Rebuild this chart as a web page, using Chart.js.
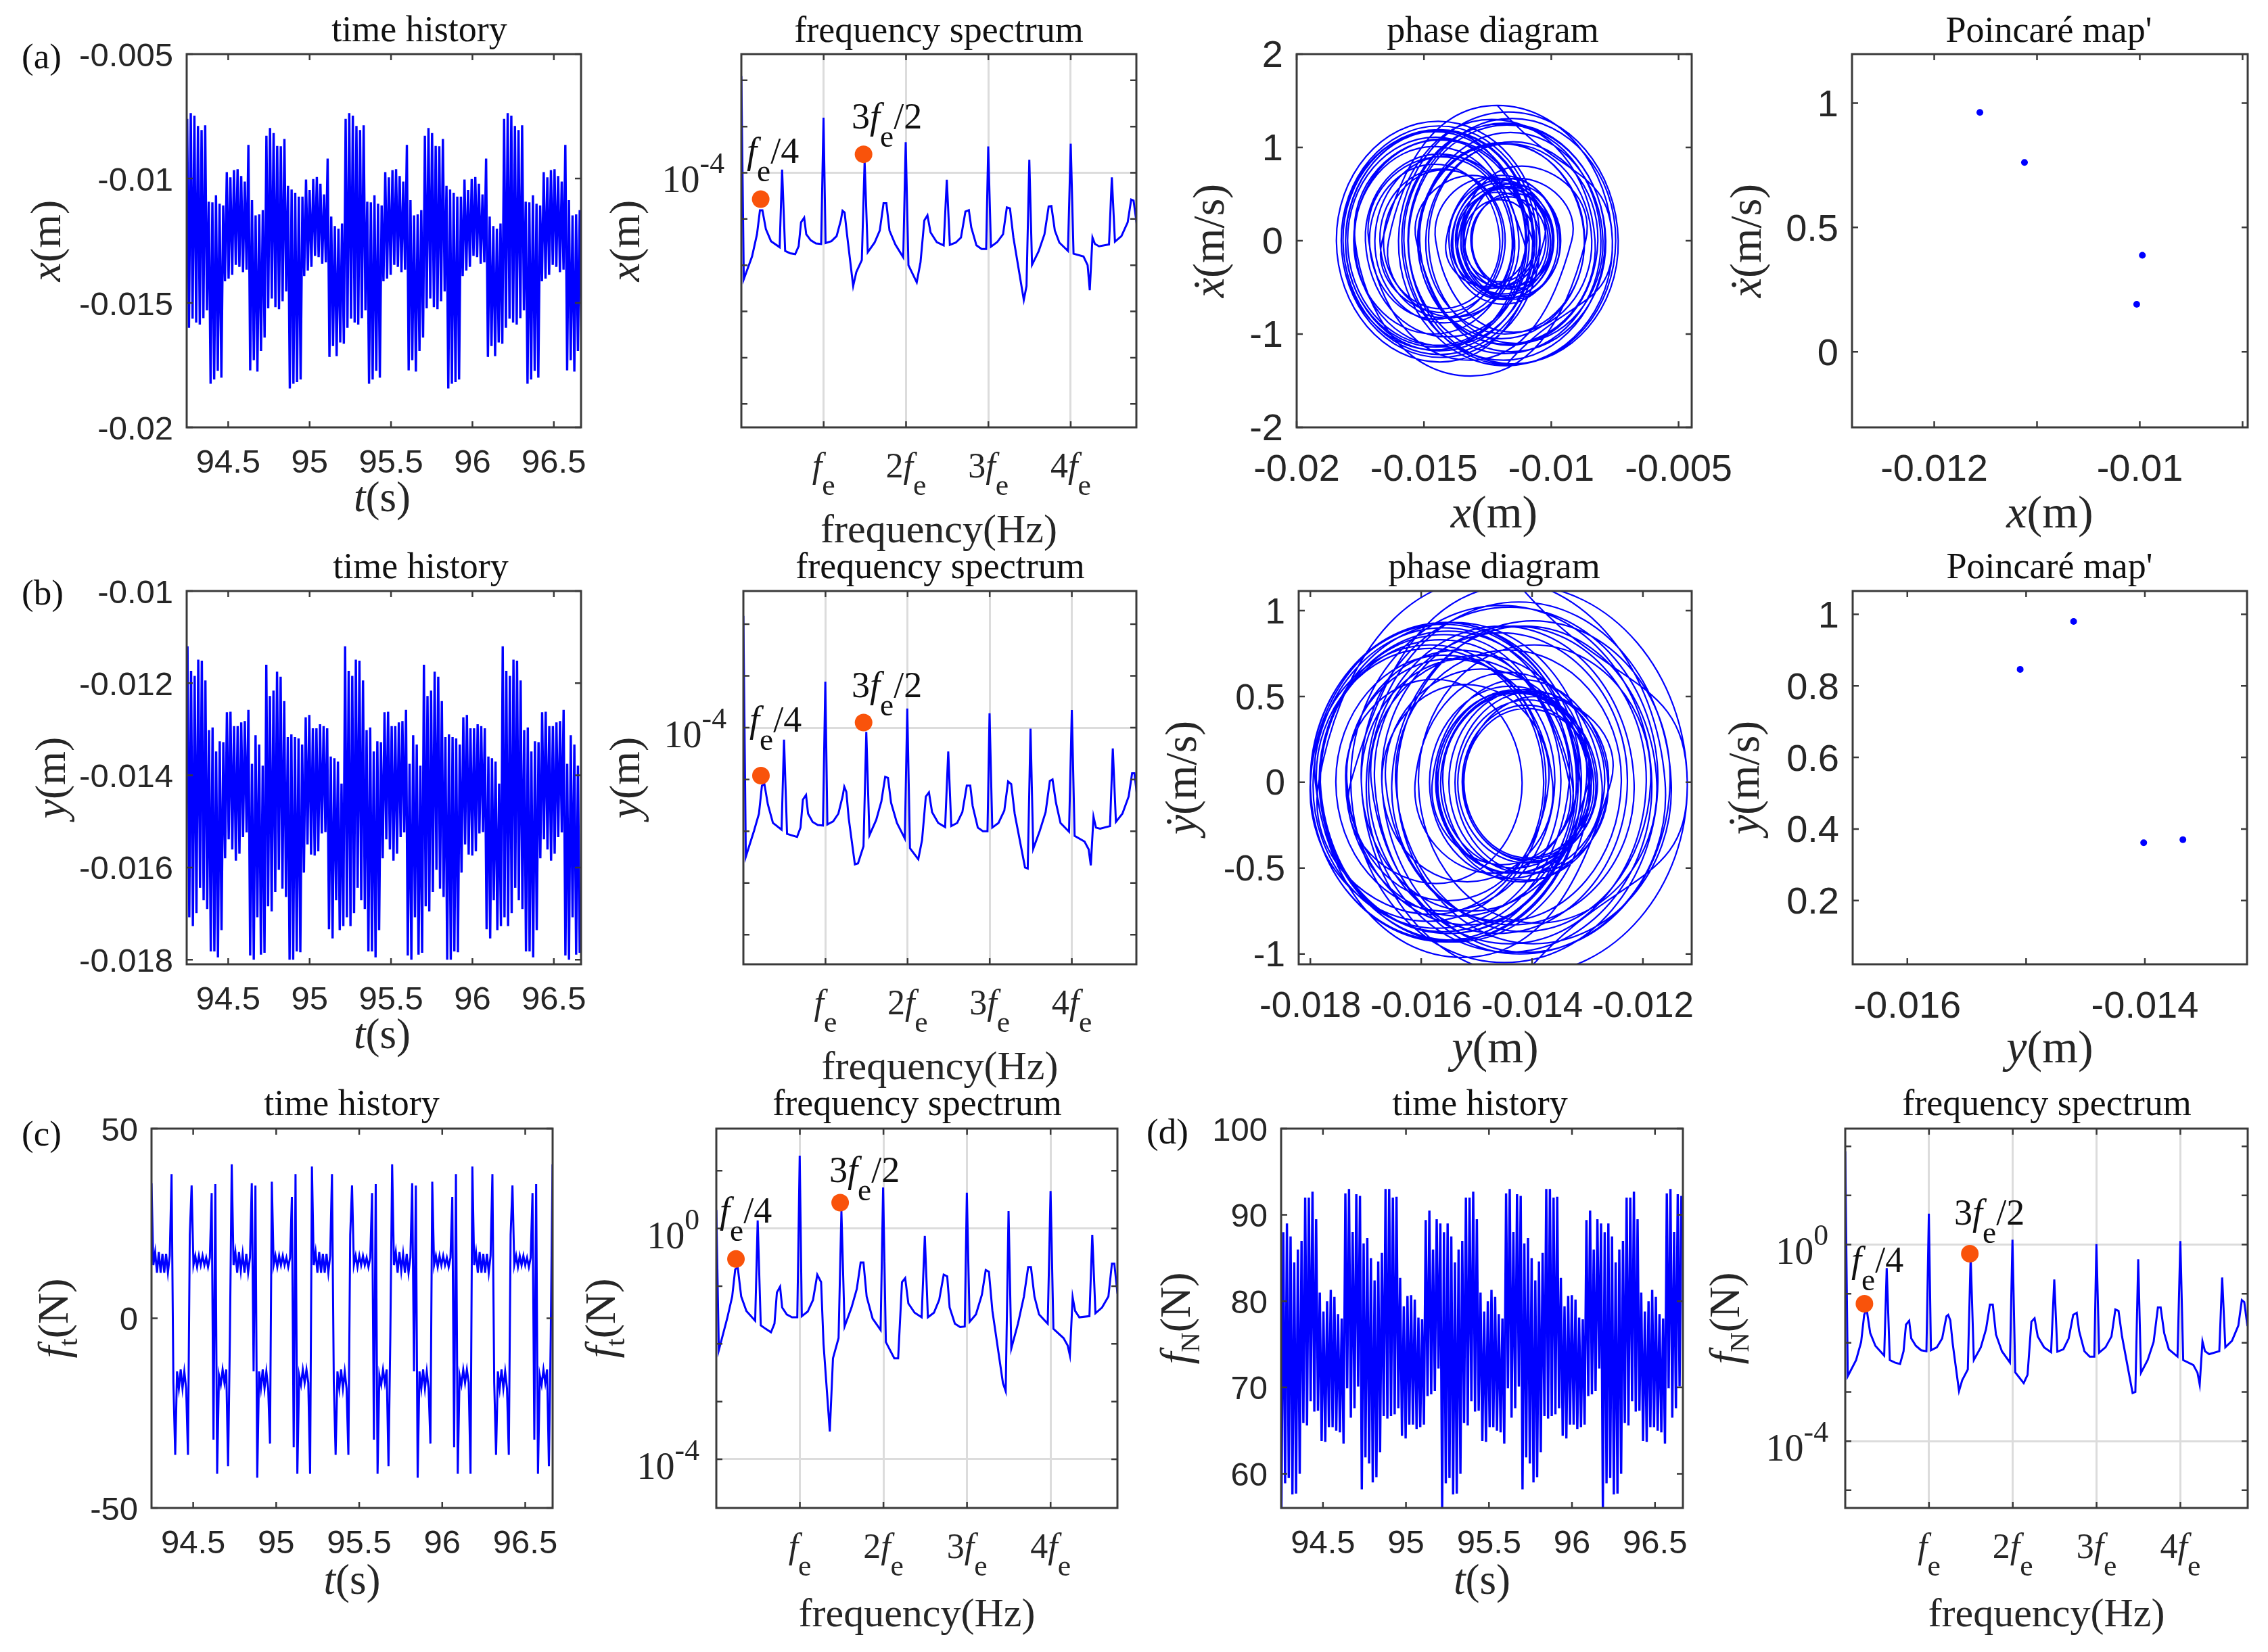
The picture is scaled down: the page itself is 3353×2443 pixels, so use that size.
<!DOCTYPE html>
<html>
<head>
<meta charset="utf-8">
<script src="https://cdn.jsdelivr.net/npm/chart.js@4/dist/chart.umd.min.js"></script>
<style>
html, body { margin: 0; background: #fff; width: 3353px; height: 2443px; overflow: hidden; position: relative; }
canvas { position: absolute; }
</style>
</head>
<body>
<script>
// time history samples, one value per half swing (mm for x and y, N for the forces)
const xHistory = [
-7.6,-16,-7.37,-15.63,-7.47,-15.79,-7.89,-15.87,-8.05,-15.61,-7.86,-15.3,-10.93,-18.25,-10.96,-18.08,-10.67,-17.73,-11.01,-18,-11.08,-14.13,-9.74,-14.02,-9.95,-13.87,-9.66,-13.47,-9.63,-13.55,-9.9,-13.76,-10.12,-13.66,-8.65,-17.71,-10.87,-17.3,-11.48,-17.76,-11.44,-16.93,-11.27,-16.39,-8.28,-15.22,-7.97,-14.82,-8.17,-15.17,-8.69,-15.25,-8.7,-14.93,-8.41,-14.54,-10.29,-18.44,-10.44,-18.25,-10.57,-18.18,-10.73,-18.08,-10.73,-13.92,-10.04,-13.7,-10.46,-13.55,-10.02,-13.11,-9.94,-13.16,-10.21,-13.42,-10.64,-13.37,-9.2,-17.17,-11.53,-16.73,-11.91,-17.14,-12.02,-16.59,-11.81,-16.64,
-7.6,-16,-7.37,-15.63,-7.47,-15.79,-7.89,-15.87,-8.05,-15.61,-7.86,-15.3,-10.93,-18.25,-10.96,-18.08,-10.67,-17.73,-11.01,-18,-11.08,-14.13,-9.74,-14.02,-9.95,-13.87,-9.66,-13.47,-9.63,-13.55,-9.9,-13.76,-10.12,-13.66,-8.65,-17.71,-10.87,-17.3,-11.48,-17.76,-11.44,-16.93,-11.27,-16.39,-8.28,-15.22,-7.97,-14.82,-8.17,-15.17,-8.69,-15.25,-8.7,-14.93,-8.41,-14.54,-10.29,-18.44,-10.44,-18.25,-10.57,-18.18,-10.73,-18.08,-10.73,-13.92,-10.04,-13.7,-10.46,-13.55,-10.02,-13.11,-9.94,-13.16,-10.21,-13.42,-10.64,-13.37,-9.2,-17.17,-11.53,-16.73,-11.91,-17.14,-12.02,-16.59,-11.81,-16.64,
-7.6,-16,-7.37,-15.63,-7.47,-15.79,-7.89,-15.87,-8.05,-15.61,-7.86,-15.3,-10.93,-18.25,-10.96,-18.08,-10.67,-17.73,-11.01,-18,-11.08,-14.13,-9.74,-14.02,-9.95,-13.87,-9.66,-13.47,-9.63,-13.55,-9.9,-13.76,-10.12,-13.66,-8.65,-17.71,-10.87,-17.3,-11.48,-17.76,-11.44,-16.93,-11.27,-16.39
];
const yHistory = [
-11.2,-17.08,-11.73,-17.27,-11.84,-16.99,-11.49,-16.44,-11.51,-16.71,-11.94,-16.9,-13.02,-17.82,-12.96,-17.82,-13.48,-17.95,-13.26,-17.36,-13.28,-15.8,-12.63,-15.39,-12.62,-15.61,-12.93,-15.85,-12.93,-15.7,-12.85,-15.34,-12.82,-15.24,-12.58,-17.91,-13.75,-18,-13.13,-17.08,-13.33,-17.89,-13.79,-17.85,-11.6,-16.84,-12.28,-16.95,-12.16,-16.53,-11.75,-16.05,-11.86,-16.46,-12.39,-16.64,-13.17,-18,-13.11,-18,-13.17,-17.82,-13.2,-17.84,-13.33,-16.11,-12.74,-15.5,-12.69,-15.72,-12.98,-15.74,-12.98,-15.65,-12.89,-15.26,-12.93,-15.23,-12.98,-17.34,-13.59,-17.54,-13.63,-16.71,-13.7,-17.36,-14.18,-17.27,
-11.2,-17.08,-11.73,-17.27,-11.84,-16.99,-11.49,-16.44,-11.51,-16.71,-11.94,-16.9,-13.02,-17.82,-12.96,-17.82,-13.48,-17.95,-13.26,-17.36,-13.28,-15.8,-12.63,-15.39,-12.62,-15.61,-12.93,-15.85,-12.93,-15.7,-12.85,-15.34,-12.82,-15.24,-12.58,-17.91,-13.75,-18,-13.13,-17.08,-13.33,-17.89,-13.79,-17.85,-11.6,-16.84,-12.28,-16.95,-12.16,-16.53,-11.75,-16.05,-11.86,-16.46,-12.39,-16.64,-13.17,-18,-13.11,-18,-13.17,-17.82,-13.2,-17.84,-13.33,-16.11,-12.74,-15.5,-12.69,-15.72,-12.98,-15.74,-12.98,-15.65,-12.89,-15.26,-12.93,-15.23,-12.98,-17.34,-13.59,-17.54,-13.63,-16.71,-13.7,-17.36,-14.18,-17.27,
-11.2,-17.08,-11.73,-17.27,-11.84,-16.99,-11.49,-16.44,-11.51,-16.71,-11.94,-16.9,-13.02,-17.82,-12.96,-17.82,-13.48,-17.95,-13.26,-17.36,-13.28,-15.8,-12.63,-15.39,-12.62,-15.61,-12.93,-15.85,-12.93,-15.7,-12.85,-15.34,-12.82,-15.24,-12.58,-17.91,-13.75,-18,-13.13,-17.08,-13.33,-17.89,-13.79,-17.85
];
const ftHistory = [
35.6,14,17.5,12,17.5,12,17,12,17,12,16.5,38,-17,-36,-14,-18.5,-13.5,-18.5,-14,-18.5,-36,22,35,14,16.5,13.5,16.5,14,16.5,14,16,13.5,16,33,-32,35.4,-41,-15,-17.5,-13.5,-17,-13.5,-39,-5,40.6,14,17.5,12,17.5,12.5,17,12,17,12,16,35.6,-14,35,-42,-14,-18.5,-13.5,-18.5,-14,-18.5,-33,36,14,16.5,13.5,16.5,14,16.5,14,16,13.5,16,32,-34,38,-41,-15,-17.5,-13.5,-17,-13.5,-17,-41,
40,14,17.5,12,17.5,12,17,12,17,12,16.5,38,-17,-36,-14,-18.5,-13.5,-18.5,-14,-18.5,-36,22,35,14,16.5,13.5,16.5,14,16.5,14,16,13.5,16,33,-32,35.4,-41,-15,-17.5,-13.5,-17,-13.5,-39,-5,40.6,14,17.5,12,17.5,12.5,17,12,17,12,16,35.6,-14,35,-42,-14,-18.5,-13.5,-18.5,-14,-18.5,-33,36,14,16.5,13.5,16.5,14,16.5,14,16,13.5,16,32,-34,38,-41,-15,-17.5,-13.5,-17,-13.5,-17,-41,
40,14,17.5,12,17.5,12,17,12,17,12,16.5,38,-17,-36,-14,-18.5,-13.5,-18.5,-14,-18.5,-36,22,35,14,16.5,13.5,16.5,14,16.5,14,16,13.5,16,33,-32,35.4,-41,-15,-17.5,-13.5,-17,-13.5,-39,-5,40.6
];
const fnHistory = [
56,88,58.9,89,59.5,87.5,57.6,84.5,57.7,86,60,87,65.9,92,65.6,92,68.4,92.7,67.2,89.5,67.3,81,63.8,78.8,63.7,80,65.4,81.3,65.4,80.5,65,78.5,64.8,78,63.5,92.5,69.9,93,66.5,88,67.6,92.4,70.1,92.2,58.2,86.7,61.9,87.3,61.2,85,59,82.4,59.6,84.6,62.5,85.6,66.7,93,66.4,93,66.7,92,66.9,92.1,67.6,82.7,64.4,79.4,64.1,80.6,65.7,80.7,65.7,80.2,65.2,78.1,65.4,77.9,65.7,89.4,69,90.5,69.2,86,69.6,89.5,72.2,89,
56,88,58.9,89,59.5,87.5,57.6,84.5,57.7,86,60,87,65.9,92,65.6,92,68.4,92.7,67.2,89.5,67.3,81,63.8,78.8,63.7,80,65.4,81.3,65.4,80.5,65,78.5,64.8,78,63.5,92.5,69.9,93,66.5,88,67.6,92.4,70.1,92.2,58.2,86.7,61.9,87.3,61.2,85,59,82.4,59.6,84.6,62.5,85.6,66.7,93,66.4,93,66.7,92,66.9,92.1,67.6,82.7,64.4,79.4,64.1,80.6,65.7,80.7,65.7,80.2,65.2,78.1,65.4,77.9,65.7,89.4,69,90.5,69.2,86,69.6,89.5,72.2,89,
56,88,58.9,89,59.5,87.5,57.6,84.5,57.7,86,60,87,65.9,92,65.6,92,68.4,92.7,67.2,89.5,67.3,81,63.8,78.8,63.7,80,65.4,81.3,65.4,80.5,65,78.5,64.8,78,63.5,92.5,69.9,93,66.5,88,67.6,92.4,70.1,92.2
];

// spectra: frequency in multiples of fe, amplitude as log10
const specFreq = [
0,.03,.13,.19,.226,.256,.298,.36,.465,.495,
.532,.591,.654,.696,.725,.763,.788,.843,.906,.969,
.998,1.023,1.094,1.157,1.208,1.229,1.254,1.283,1.358,1.396,
1.463,1.497,1.535,1.618,1.681,1.727,1.761,1.799,1.87,1.966,
1.996,2.029,2.13,2.176,2.222,2.26,2.298,2.373,2.457,2.495,
2.532,2.604,2.667,2.721,2.763,2.792,2.855,2.918,2.973,2.998,
3.031,3.107,3.178,3.224,3.262,3.304,3.43,3.463,3.497,3.53,
3.61,3.681,3.732,3.765,3.807,3.862,3.966,4,4.034,4.155,
4.205,4.231,4.264,4.294,4.344,4.465,4.499,4.537,4.616,4.692,
4.734,4.763,4.801];
const xSpecLog = [
-1.91,-6.3,-5.81,-5.33,-4.81,-4.81,-5.22,-5.48,-5.61,-3.93,
-5.69,-5.74,-5.76,-5.59,-5.07,-4.97,-5.33,-5.46,-5.53,-5.54,
-2.81,-5.52,-5.48,-5.37,-5.03,-4.82,-4.86,-5.33,-6.45,-6.15,
-5.89,-3.75,-5.72,-5.51,-5.25,-4.66,-4.66,-5.25,-5.55,-5.83,
-3.34,-6,-6.37,-5.93,-5.03,-4.92,-5.29,-5.5,-5.57,-4.15,
-5.56,-5.51,-5.4,-4.84,-4.81,-5.18,-5.57,-5.65,-5.65,-3.43,
-5.6,-5.5,-5.33,-4.75,-4.77,-5.4,-6.75,-6.45,-3.72,-5.99,
-5.7,-5.33,-4.73,-4.72,-5.25,-5.51,-5.69,-3.37,-5.75,-5.81,
-6,-6.54,-5.4,-5.54,-5.59,-5.55,-4.1,-5.49,-5.37,-5.07,
-4.58,-4.6,-5.1];
const ySpecLog = [
-1.84,-6.49,-5.99,-5.66,-5.12,-5.09,-5.48,-5.84,-5.97,-4.23,
-6.05,-6.08,-6.11,-5.93,-5.39,-5.3,-5.66,-5.82,-5.88,-5.89,
-3.11,-5.87,-5.81,-5.66,-5.33,-5.14,-5.24,-5.75,-6.64,-6.62,
-6.29,-4.08,-6.08,-5.78,-5.42,-4.95,-4.97,-5.45,-5.84,-6.14,
-3.63,-6.33,-6.54,-6.17,-5.33,-5.25,-5.63,-5.84,-5.92,-4.46,
-5.9,-5.84,-5.63,-5.12,-5.12,-5.51,-5.93,-6,-6,-3.72,
-5.93,-5.84,-5.6,-5.04,-5.09,-5.66,-6.7,-6.72,-4.02,-6.34,
-5.99,-5.63,-5.03,-5,-5.45,-5.84,-6.01,-3.66,-6.09,-6.2,
-6.35,-6.66,-5.72,-5.93,-5.95,-5.9,-4.4,-5.82,-5.66,-5.33,
-4.88,-4.88,-5.41];
const ftSpecLog = [
.32,-2.11,-1.56,-1.18,-.71,-.67,-1.18,-1.43,-1.6,.14,
-1.68,-1.74,-1.8,-1.65,-1.11,-1.01,-1.37,-1.49,-1.54,-1.54,
1.26,-1.52,-1.44,-1.24,-.8,-.86,-.93,-2,-3.52,-2.25,
-1.9,.3,-1.7,-1.37,-1.05,-.59,-.59,-1.18,-1.56,-1.76,
.71,-1.97,-2.25,-2.25,-.93,-.86,-1.3,-1.46,-1.54,-.13,
-1.54,-1.46,-1.24,-.8,-.83,-1.37,-1.65,-1.71,-1.7,.62,
-1.62,-1.49,-1.15,-.72,-.75,-1.43,-2.68,-2.82,.3,-2.08,
-1.65,-1.18,-.67,-.67,-1.18,-1.49,-1.65,.65,-1.74,-1.9,
-2.03,-2.2,-1.19,-1.43,-1.54,-1.52,-.11,-1.47,-1.37,-1.18,
-.61,-.61,-1.13];
const fnSpecLog = [
1.9,-2.68,-2.35,-1.98,-1.43,-1.32,-1.8,-2.06,-2.26,-.48,
-2.35,-2.4,-2.43,-2.17,-1.63,-1.55,-1.91,-2.06,-2.15,-2.17,
.63,-2.15,-2.09,-1.91,-1.46,-1.43,-1.54,-2.02,-2.98,-2.76,
-2.54,-.24,-2.35,-2.09,-1.72,-1.22,-1.22,-1.83,-2.17,-2.4,
.1,-2.6,-2.82,-2.65,-1.57,-1.5,-1.87,-2.09,-2.19,-.71,
-2.18,-2.13,-1.91,-1.43,-1.39,-1.76,-2.17,-2.28,-2.28,.01,
-2.2,-2.09,-1.87,-1.32,-1.35,-1.87,-3.02,-3,-.3,-2.61,
-2.35,-1.98,-1.28,-1.28,-1.8,-2.13,-2.28,.07,-2.35,-2.45,
-2.61,-2.85,-1.97,-2.17,-2.23,-2.17,-.67,-2.09,-1.96,-1.65,
-1.13,-1.17,-1.66];

// orange markers at fe/4 and 3fe/2: frequency, log10 amplitude
const xMarkF = [.235, 1.484], xMarkLog = [-4.57, -3.6];
const yMarkF = [.214, 1.464], yMarkLog = [-4.925, -3.9];
const ftMarkF = [.235, 1.482], ftMarkLog = [-.53, .447];
const fnMarkF = [.229, 1.487], fnMarkLog = [-1.205, -.185];

// phase loops: turning point, mid swing, turning point ... (mm, m/s)
const xPhasePos = [
-12.12,-7.6,-11.8,-16,-11.69,-7.37,-11.5,-15.63,-11.55,-7.47,-11.63,-15.79,-11.84,-7.89,-11.88,-15.87,-11.96,-8.05,-11.83,-15.61,-11.74,-7.86,-11.58,-15.3,-13.12,-10.93,-14.59,-18.25,-14.6,-10.96,-14.52,-18.08,-14.38,-10.67,-14.2,-17.73,-14.37,-11.01,-14.5,-18,-14.54,-11.08,-12.6,-14.13,-11.94,-9.74,-11.88,-14.02,-11.98,-9.95,-11.91,-13.87,-11.76,-9.66,-11.56,-13.47,-11.55,-9.63,-11.59,-13.55,-11.72,-9.9,-11.83,-13.76,-11.94,-10.12,-11.89,-13.66,-11.16,-8.65,-13.18,-17.71,-14.29,-10.87,-14.09,-17.3,-14.39,-11.48,-14.62,-17.76,-14.6,-11.44,-14.19,-16.93,-14.1,-11.27,-13.83,-16.39,-12.34,-8.28,-11.75,-15.22,-11.6,-7.97,-11.4,-14.82,-11.5,-8.17,-11.67,-15.17,-11.93,-8.69,-11.97,-15.25,-11.98,-8.7,-11.82,-14.93,-11.67,-8.41,-11.48,-14.54,-12.42,-10.29,-14.37,-18.44,-14.44,-10.44,-14.35,-18.25,-14.41,-10.57,-14.38,-18.18,-14.46,-10.73,-14.4,-18.08,-14.4,-10.73,-12.33,-13.92,-11.98,-10.04,-11.87,-13.7,-12.08,-10.46,-12,-13.55,-11.79,-10.02,-11.57,-13.11,-11.53,-9.94,-11.55,-13.16,-11.69,-10.21,-11.82,-13.42,-12.03,-10.64,-12,-13.37,-11.29,-9.2,-13.19,-17.17,-14.35,-11.53,-14.13,-16.73,-14.32,-11.91,-14.53,-17.14,-14.58,-12.02,-14.31,-16.59,-14.2,-11.81,-14.23,-16.64,-12.12,-7.6,-11.8];
const xPhaseVel = [
1.45,0,-1.34,0,1.38,0,-1.32,0,1.31,0,-1.33,0,1.26,0,-1.28,0,1.25,0,-1.21,0,1.24,0,-1.19,0,.7,0,-1.17,0,1.17,0,-1.14,0,1.19,0,-1.13,0,1.08,0,-1.12,0,1.11,0,-.49,0,.7,0,-.68,0,.65,0,-.63,0,.67,0,-.61,0,.61,0,-.63,0,.58,0,-.62,0,.58,0,-.57,0,.8,0,-1.45,0,1.09,0,-1.03,0,.93,0,-1,0,1.01,0,-.88,0,.91,0,-.82,0,1.3,0,-1.11,0,1.16,0,-1.1,0,1.06,0,-1.12,0,1.04,0,-1.05,0,1.05,0,-1,0,1.04,0,-.98,0,.68,0,-1.3,0,1.28,0,-1.25,0,1.23,0,-1.22,0,1.19,0,-1.18,0,1.18,0,-.51,0,.62,0,-.59,0,.52,0,-.49,0,.56,0,-.49,0,.51,0,-.52,0,.47,0,-.51,0,.44,0,-.44,0,.67,0,-1.28,0,.9,0,-.83,0,.77,0,-.84,0,.82,0,-.73,0,.76,0,-.77,0,1.45,0,-1.34];
const yPhasePos = [
-14.24,-11.2,-14.14,-17.08,-14.41,-11.73,-14.5,-17.27,-14.56,-11.84,-14.42,-16.99,-14.24,-11.49,-13.97,-16.44,-13.98,-11.51,-14.11,-16.71,-14.33,-11.94,-14.42,-16.9,-14.96,-13.02,-15.42,-17.82,-15.39,-12.96,-15.39,-17.82,-15.65,-13.48,-15.72,-17.95,-15.6,-13.26,-15.31,-17.36,-15.32,-13.28,-14.54,-15.8,-14.22,-12.63,-14.01,-15.39,-14,-12.62,-14.12,-15.61,-14.27,-12.93,-14.39,-15.85,-14.39,-12.93,-14.32,-15.7,-14.28,-12.85,-14.1,-15.34,-14.08,-12.82,-14.03,-15.24,-13.91,-12.58,-15.25,-17.91,-15.83,-13.75,-15.88,-18,-15.57,-13.13,-15.11,-17.08,-15.21,-13.33,-15.61,-17.89,-15.84,-13.79,-15.82,-17.85,-14.73,-11.6,-14.22,-16.84,-14.56,-12.28,-14.62,-16.95,-14.56,-12.16,-14.35,-16.53,-14.14,-11.75,-13.9,-16.05,-13.96,-11.86,-14.16,-16.46,-14.43,-12.39,-14.52,-16.64,-14.91,-13.17,-15.59,-18,-15.56,-13.11,-15.56,-18,-15.59,-13.17,-15.5,-17.82,-15.51,-13.2,-15.52,-17.84,-15.59,-13.33,-14.72,-16.11,-14.43,-12.74,-14.12,-15.5,-14.1,-12.69,-14.21,-15.72,-14.35,-12.98,-14.36,-15.74,-14.36,-12.98,-14.32,-15.65,-14.27,-12.89,-14.08,-15.26,-14.1,-12.93,-14.08,-15.23,-14.1,-12.98,-15.16,-17.34,-15.47,-13.59,-15.57,-17.54,-15.59,-13.63,-15.17,-16.71,-15.21,-13.7,-15.53,-17.36,-15.77,-14.18,-15.73,-17.27,-14.24,-11.2,-14.14];
const yPhaseVel = [
1.15,0,-1.12,0,1.02,0,-1.05,0,1.03,0,-.99,0,1.05,0,-.94,0,.94,0,-.99,0,.91,0,-.94,0,.74,0,-.92,0,.93,0,-.93,0,.83,0,-.85,0,.9,0,-.78,0,.77,0,-.48,0,.6,0,-.53,0,.53,0,-.57,0,.52,0,-.56,0,.56,0,-.53,0,.54,0,-.47,0,.48,0,-.46,0,.5,0,-1.02,0,.8,0,-.81,0,.93,0,-.75,0,.72,0,-.87,0,.78,0,-.77,0,1.19,0,-1,0,.87,0,-.88,0,.91,0,-.83,0,.91,0,-.82,0,.8,0,-.87,0,.77,0,-.81,0,.66,0,-.92,0,.93,0,-.93,0,.92,0,-.88,0,.88,0,-.88,0,.86,0,-.53,0,.64,0,-.53,0,.54,0,-.58,0,.53,0,-.53,0,.53,0,-.5,0,.53,0,-.45,0,.45,0,-.44,0,.43,0,-.83,0,.72,0,-.75,0,.74,0,-.58,0,.57,0,-.69,0,.6,0,-.59,0,1.15,0,-1.12];

// Poincare sections
const xPoincarePos = [-.011556, -.011122, -.009975, -.01003];
const xPoincareVel = [.9626, .7614, .388, .191];
const yPoincarePos = [-.01505, -.0146, -.01401, -.01368];
const yPoincareVel = [.846, .98, .3616, .37];

// tick lists
const timeTicks = [94.5, 95, 95.5, 96, 96.5];
const feTicks = [1, 2, 3, 4];
const xTimeTicks = [-.02, -.015, -.01, -.005];
const yTimeTicks = [-.018, -.016, -.014, -.012, -.01];
const ftTicks = [-50, 0, 50];
const fnTicks = [60, 70, 80, 90, 100];
const xVelTicks = [-2, -1, 0, 1, 2];
const yVelTicks = [-1, -.5, 0, .5, 1];
const xMapXTicks = [-.012, -.011, -.01, -.009];
const xMapXLabels = [-.012, -.01];
const xMapYTicks = [0, .5, 1];
const yMapXTicks = [-.016, -.015, -.014];
const yMapXLabels = [-.016, -.014];
const yMapYTicks = [.2, .4, .6, .8, 1];

const BLUE = '#0000ff', ORANGE = '#f9530b', INK = '#262626';
const SERIF = '"Liberation Serif"';
const M_LEFT = 260, M_TOP = 85, M_BOTTOM = 200;

const it = t => ({ t, i: true });
const sub = t => ({ t, sub: true });      // large subscript, as in fe
const low = t => ({ t, low: true });      // small axis-label subscript
const sup = t => ({ t, sup: true });

// draw a row of mixed italic / subscript text on one baseline
function drawRuns(ctx, runs, x, y, size, align) {
    const sizeOf = r => r.sub ? size * 0.84 : r.low ? size * 0.64 : r.sup ? size * 0.78 : size;
    const fontOf = r => (r.i ? 'italic ' : '') + sizeOf(r) + 'px ' + SERIF;
    let total = 0;
    runs.forEach(r => { ctx.font = fontOf(r); total += ctx.measureText(r.t).width; });
    let px = align === 'center' ? x - total / 2 : align === 'right' ? x - total : x;
    ctx.textAlign = 'left';
    ctx.textBaseline = 'alphabetic';
    runs.forEach(r => {
        ctx.font = fontOf(r);
        const dy = r.sub ? size * 0.5 : r.low ? size * 0.22 : r.sup ? -size * 0.5 : 0;
        ctx.fillText(r.t, px, y + dy);
        px += ctx.measureText(r.t).width;
    });
}

function panelPlugin(p) {
    const [L, R, T, B] = p.box;
    return {
        id: 'panelDecor',
        afterDraw(chart) {
            const ctx = chart.ctx, sx = chart.scales.x, sy = chart.scales.y;
            const ox = L - M_LEFT, oy = T - M_TOP;
            ctx.save();
            // inward ticks on all four sides, then the box
            ctx.strokeStyle = '#3a3a3a';
            ctx.lineWidth = 2.5;
            ctx.beginPath();
            sx.ticks.forEach(t => {
                const px = sx.getPixelForValue(t.value);
                ctx.moveTo(px, M_TOP); ctx.lineTo(px, M_TOP + 9);
                ctx.moveTo(px, M_TOP + B - T); ctx.lineTo(px, M_TOP + B - T - 9);
            });
            sy.ticks.forEach(t => {
                const py = sy.getPixelForValue(t.value);
                ctx.moveTo(M_LEFT, py); ctx.lineTo(M_LEFT + 9, py);
                ctx.moveTo(M_LEFT + R - L, py); ctx.lineTo(M_LEFT + R - L - 9, py);
            });
            ctx.stroke();
            ctx.lineWidth = 3;
            ctx.strokeRect(M_LEFT, M_TOP, R - L, B - T);

            ctx.translate(-ox, -oy);
            ctx.fillStyle = '#111';
            drawRuns(ctx, [{ t: p.title }], p.titleX, p.titleY, 54, 'center');
            ctx.fillStyle = INK;
            drawRuns(ctx, p.xLabel, p.xLabelX || (L + R) / 2, p.xLabelY, p.xLabelSize || 63, 'center');
            ctx.save();
            ctx.translate(p.yLabelX, (T + B) / 2);
            ctx.rotate(-Math.PI / 2);
            drawRuns(ctx, p.yLabel, 0, 0, p.yLabelSize || 64, 'center');
            ctx.restore();
            if (p.tag) {
                ctx.fillStyle = '#111';
                drawRuns(ctx, [{ t: p.tag[0] }], p.tag[1], p.tag[2], 53, 'left');
            }
            if (p.spectrum) {
                ctx.fillStyle = INK;
                p.feTicks.forEach(n => {
                    const px = sx.getPixelForValue(n) + ox;
                    const runs = n === 1 ? [it('f'), sub('e')] : [{ t: String(n) }, it('f'), sub('e')];
                    drawRuns(ctx, runs, px, B + 74, 52, 'center');
                });
                p.logLabels.forEach(e => {
                    const py = sy.getPixelForValue(Math.pow(10, e)) + oy;
                    drawRuns(ctx, [{ t: '10' }, sup(String(e))], L - 25, py + 29, 56, 'right');
                });
                ctx.fillStyle = '#111';
                drawRuns(ctx, [it('f'), sub('e'), { t: '/4' }], p.note1[0], p.note1[1], 54, 'left');
                drawRuns(ctx, [{ t: '3' }, it('f'), sub('e'), { t: '/2' }], p.note2[0], p.note2[1], 54, 'left');
            }
            ctx.restore();
        }
    };
}

function scaleOptions(p, axis) {
    const s = p[axis];
    const isX = axis === 'x';
    const margin = isX ? M_BOTTOM : M_LEFT;
    return {
        type: s.log ? 'logarithmic' : 'linear',
        min: s.min,
        max: s.max,
        border: { display: false },
        grid: s.gridAt ? {
            drawTicks: false,
            lineWidth: 3,
            color: c => s.gridAt.includes(c.tick.value) ? '#dcdcdc' : 'rgba(0,0,0,0)'
        } : { display: false, drawTicks: false },
        afterBuildTicks: sc => { sc.ticks = s.ticks.map(v => ({ value: v })); },
        afterFit: sc => { if (isX) sc.height = margin; else sc.width = margin; },
        ticks: {
            display: !s.hideLabels,
            autoSkip: false,
            minRotation: 0,
            maxRotation: 0,
            padding: isX ? (s.pad || 24) : 20,
            labelOffset: isX ? 0 : 4,
            color: INK,
            font: { family: 'Liberation Sans', size: p.tickSize },
            callback: v => (!s.labels || s.labels.includes(v)) ? String(v) : ''
        }
    };
}

function addPanel(p) {
    const [L, R, T, B] = p.box;
    const rightPad = p.rightPad || 90;
    const canvas = document.createElement('canvas');
    const w = M_LEFT + (R - L) + rightPad, h = M_TOP + (B - T) + M_BOTTOM;
    canvas.width = w;
    canvas.height = h;
    canvas.style.left = (L - M_LEFT) + 'px';
    canvas.style.top = (T - M_TOP) + 'px';
    canvas.style.width = w + 'px';
    canvas.style.height = h + 'px';
    document.body.appendChild(canvas);
    new Chart(canvas.getContext('2d'), {
        type: 'scatter',
        data: { datasets: p.datasets },
        options: {
            responsive: false,
            devicePixelRatio: 1,
            animation: false,
            layout: { padding: { top: M_TOP, right: rightPad, left: 0, bottom: 0 } },
            plugins: { legend: { display: false }, tooltip: { enabled: false } },
            scales: { x: scaleOptions(p, 'x'), y: scaleOptions(p, 'y') }
        },
        plugins: [panelPlugin(p)]
    });
}

const zip = (xs, ys) => xs.map((x, i) => ({ x, y: ys[i] }));
const sampled = (t0, dt, vals, k) => vals.map((v, i) => ({ x: t0 + i * dt, y: v * k }));
const lineSet = (data, width, tension) => ({
    data, showLine: true, pointRadius: 0, borderColor: BLUE, borderWidth: width,
    tension: tension || 0, borderJoinStyle: 'miter'
});
const dotSet = (data, r, color) => ({
    data, showLine: false, pointRadius: r, pointHoverRadius: r,
    pointBackgroundColor: color, pointBorderWidth: 0, clip: false
});
const pow10 = a => a.map(e => Math.pow(10, e));
const mmToM = a => a.map(v => v / 1000);

function timeScale(a, b) { return { min: a, max: b, ticks: timeTicks }; }

function spectrumPanel(o) {
    addPanel({
        box: o.box, title: 'frequency spectrum', titleX: o.titleX, titleY: o.titleY,
        xLabel: [{ t: 'frequency(Hz)' }], xLabelY: o.xLabelY, xLabelSize: 60,
        yLabel: o.yLabel, yLabelX: o.yLabelX, tag: o.tag, tickSize: 49,
        spectrum: true, feTicks, logLabels: o.logLabels, note1: o.note1, note2: o.note2,
        rightPad: o.rightPad,
        x: { min: 0, max: o.fMax, ticks: feTicks, gridAt: feTicks, hideLabels: true },
        y: {
            log: true, min: Math.pow(10, o.logMin), max: Math.pow(10, o.logMax),
            ticks: pow10(o.decades), gridAt: pow10(o.logLabels), hideLabels: true
        },
        datasets: [
            dotSet(zip(o.markF, pow10(o.markLog)), 13, ORANGE),
            lineSet(zip(specFreq, pow10(o.logs)), 3)
        ]
    });
}

// row (a)
addPanel({
    box: [276, 859, 80, 632], title: 'time history', titleX: 620, titleY: 61,
    xLabel: [it('t'), { t: '(s)' }], xLabelX: 565, xLabelY: 756,
    yLabel: [it('x'), { t: '(m)' }], yLabelX: 89, tag: ['(a)', 32, 101], tickSize: 49,
    x: timeScale(94.245, 96.667), y: { min: -.02, max: -.005, ticks: xTimeTicks },
    datasets: [lineSet(sampled(94.248, .01106, xHistory, .001), 3.4)]
});
spectrumPanel({
    box: [1096, 1680, 80, 632], titleX: 1388, titleY: 62, xLabelY: 802,
    yLabel: [it('x'), { t: '(m)' }], yLabelX: 945,
    logMin: -9.507, logMax: -1.433, decades: [-9, -8, -7, -6, -5, -4, -3, -2], logLabels: [-4],
    fMax: 4.797, logs: xSpecLog, markF: xMarkF, markLog: xMarkLog,
    note1: [1104, 241], note2: [1259, 190]
});
addPanel({
    box: [1917, 2501, 80, 632], title: 'phase diagram', titleX: 2207, titleY: 62,
    xLabel: [it('x'), { t: '(m)' }], xLabelY: 780, xLabelSize: 68,
    yLabel: [it('ẋ'), { t: '(m/s)' }], yLabelX: 1809, yLabelSize: 66, tickSize: 56,
    x: { min: -.02, max: -.005, ticks: xTimeTicks, pad: 30 }, y: { min: -2, max: 2, ticks: xVelTicks },
    datasets: [lineSet(zip(mmToM(xPhasePos), xPhaseVel), 2.2, .55)]
});
addPanel({
    box: [2738, 3323, 80, 632], title: "Poincaré map'", titleX: 3029, titleY: 62, rightPad: 30,
    xLabel: [it('x'), { t: '(m)' }], xLabelY: 780, xLabelSize: 68,
    yLabel: [it('ẋ'), { t: '(m/s)' }], yLabelX: 2603, yLabelSize: 66, tickSize: 56,
    x: { min: -.0128, max: -.00895, ticks: xMapXTicks, labels: xMapXLabels, pad: 30 },
    y: { min: -.304, max: 1.197, ticks: xMapYTicks },
    datasets: [dotSet(zip(xPoincarePos, xPoincareVel), 5, BLUE)]
});

// row (b)
addPanel({
    box: [276, 859, 874, 1426], title: 'time history', titleX: 622, titleY: 855,
    xLabel: [it('t'), { t: '(s)' }], xLabelX: 565, xLabelY: 1550,
    yLabel: [it('y'), { t: '(m)' }], yLabelX: 96, tag: ['(b)', 32, 894], tickSize: 49,
    x: timeScale(94.245, 96.667), y: { min: -.0181, max: -.01, ticks: yTimeTicks },
    datasets: [lineSet(sampled(94.25, .011, yHistory, .001), 3.4)]
});
spectrumPanel({
    box: [1099, 1680, 874, 1426], titleX: 1390, titleY: 855, xLabelY: 1596,
    yLabel: [it('y'), { t: '(m)' }], yLabelX: 945,
    logMin: -8.57, logMax: -1.36, decades: [-8, -7, -6, -5, -4, -3, -2], logLabels: [-4],
    fMax: 4.786, logs: ySpecLog, markF: yMarkF, markLog: yMarkLog,
    note1: [1108, 1082], note2: [1259, 1031]
});
addPanel({
    box: [1920, 2501, 874, 1426], title: 'phase diagram', titleX: 2209, titleY: 855,
    xLabel: [it('y'), { t: '(m)' }], xLabelY: 1571, xLabelSize: 68,
    yLabel: [it('ẏ'), { t: '(m/s)' }], yLabelX: 1768, yLabelSize: 66, tickSize: 53,
    x: { min: -.01821, max: -.01112, ticks: [-.018, -.016, -.014, -.012], pad: 32 },
    y: { min: -1.06, max: 1.114, ticks: yVelTicks },
    datasets: [lineSet(zip(mmToM(yPhasePos), yPhaseVel), 2.2, .55)]
});
addPanel({
    box: [2739, 3322, 874, 1426], title: "Poincaré map'", titleX: 3030, titleY: 855, rightPad: 30,
    xLabel: [it('y'), { t: '(m)' }], xLabelY: 1571, xLabelSize: 68,
    yLabel: [it('ẏ'), { t: '(m/s)' }], yLabelX: 2600, yLabelSize: 66, tickSize: 56,
    x: { min: -.01646, max: -.01314, ticks: yMapXTicks, labels: yMapXLabels, pad: 30 },
    y: { min: .022, max: 1.065, ticks: yMapYTicks },
    datasets: [dotSet(zip(yPoincarePos, yPoincareVel), 5, BLUE)]
});

// row (c) and (d)
addPanel({
    box: [224, 817, 1669, 2230], title: 'time history', titleX: 520, titleY: 1649,
    xLabel: [it('t'), { t: '(s)' }], xLabelY: 2357,
    yLabel: [it('f'), low('t'), { t: '(N)' }], yLabelX: 100, tag: ['(c)', 32, 1694], tickSize: 49,
    x: timeScale(94.249, 96.665), y: { min: -50, max: 50, ticks: ftTicks },
    datasets: [lineSet(sampled(94.249, .01098, ftHistory, 1), 3)]
});
spectrumPanel({
    box: [1059, 1652, 1669, 2230], titleX: 1356, titleY: 1649, xLabelY: 2405,
    yLabel: [it('f'), low('t'), { t: '(N)' }], yLabelX: 909,
    logMin: -4.844, logMax: 1.73, decades: [-4, -3, -2, -1, 0, 1], logLabels: [0, -4],
    fMax: 4.8, logs: ftSpecLog, markF: ftMarkF, markLog: ftMarkLog,
    note1: [1064, 1808], note2: [1226, 1748]
});
addPanel({
    box: [1894, 2488, 1669, 2230], title: 'time history', titleX: 2188, titleY: 1649,
    xLabel: [it('t'), { t: '(s)' }], xLabelY: 2357,
    yLabel: [it('f'), low('N'), { t: '(N)' }], yLabelX: 1759, tag: ['(d)', 1695, 1691], tickSize: 49,
    x: timeScale(94.248, 96.668), y: { min: 56.04, max: 100, ticks: fnTicks },
    datasets: [lineSet(sampled(94.25, .011, fnHistory, 1), 3.4)]
});
spectrumPanel({
    box: [2728, 3323, 1669, 2230], titleX: 3026, titleY: 1649, xLabelY: 2405, rightPad: 30,
    yLabel: [it('f'), low('N'), { t: '(N)' }], yLabelX: 2571,
    logMin: -5.36, logMax: 2.36, decades: [-5, -4, -3, -2, -1, 0, 1, 2], logLabels: [0, -4],
    fMax: 4.804, logs: fnSpecLog, markF: fnMarkF, markLog: fnMarkLog,
    note1: [2737, 1881], note2: [2889, 1811]
});
</script>
</body>
</html>
